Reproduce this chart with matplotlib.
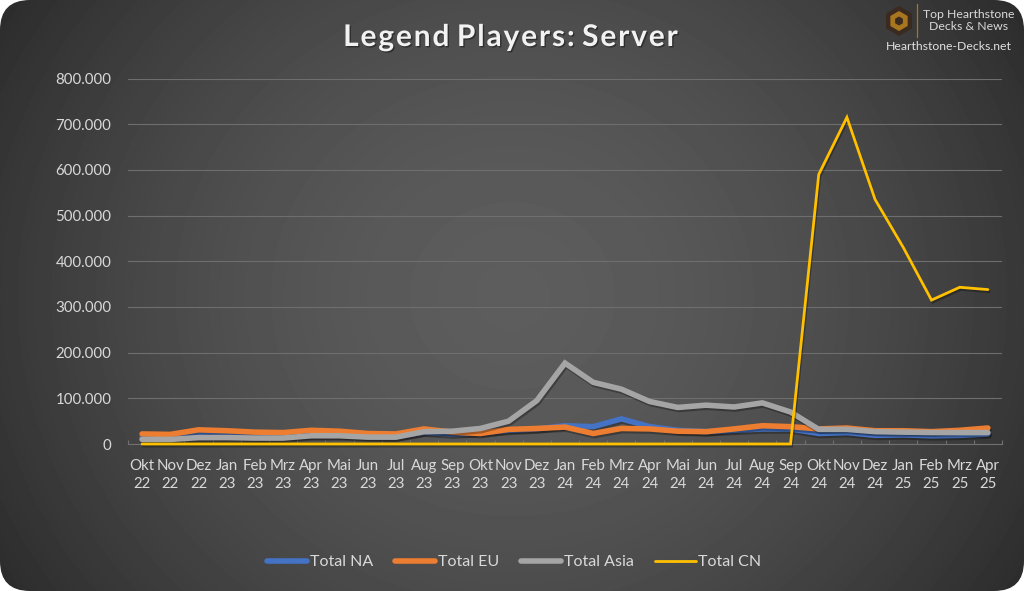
import numpy as np
import matplotlib
matplotlib.use("Agg")
import matplotlib.pyplot as plt
from matplotlib.patches import FancyBboxPatch, RegularPolygon
from matplotlib.ticker import FuncFormatter, MultipleLocator, FixedLocator
import matplotlib.patheffects as pe

months = ["Okt 22","Nov 22","Dez 22","Jan 23","Feb 23","Mrz 23","Apr 23","Mai 23","Jun 23","Jul 23","Aug 23","Sep 23",
          "Okt 23","Nov 23","Dez 23","Jan 24","Feb 24","Mrz 24","Apr 24","Mai 24","Jun 24","Jul 24","Aug 24","Sep 24",
          "Okt 24","Nov 24","Dez 24","Jan 25","Feb 25","Mrz 25","Apr 25"]
total_na = [14000,14000,20000,18000,16000,16000,20000,20000,17000,16000,26000,22000,25000,30000,33000,40000,38000,55000,38000,30000,27000,30000,33000,33000,23000,25000,19000,20000,18000,19000,22000]
total_eu = [22000,21000,31000,29000,26000,25000,30000,28000,23000,22000,33000,26000,23000,32000,34000,37000,23000,34000,33000,28000,27000,33000,40000,38000,33000,35000,29000,29000,27000,30000,35000]
total_asia = [10000,10000,14000,14000,13000,13000,18000,18000,15000,15000,27000,28000,34000,50000,95000,177000,135000,120000,93000,80000,85000,81000,90000,70000,32000,32000,27000,26000,25000,25000,25000]
total_cn = [0]*24 + [590000,715000,535000,430000,315000,343000,338000]

plt.rcParams["font.family"] = ["Lato", "DejaVu Sans"]
W, H = 1024, 591
fig = plt.figure(figsize=(W/100, H/100), dpi=100, facecolor="white")

bg = fig.add_axes([0, 0, 1, 1], zorder=0)
bg.set_xlim(0, W); bg.set_ylim(H, 0); bg.axis("off")
yy, xx = np.mgrid[0:H, 0:W]
r = np.sqrt(((xx-W/2)/(W*0.6))**2 + ((yy-H/2)/(H*0.95))**2)
shade = np.clip(0.365 - 0.2*r**1.7, 0, 1)
im = bg.imshow(shade, cmap="gray", vmin=0, vmax=1, extent=(0, W, H, 0), aspect="auto", interpolation="bilinear")
clip = FancyBboxPatch((0, 0), W, H, boxstyle="round,pad=0,rounding_size=30", transform=bg.transData, fc="none", ec="none")
bg.add_patch(clip)
im.set_clip_path(clip)

ax = fig.add_axes([128/W, 1-444/H, (1002-128)/W, (444-78.5)/H], zorder=2)
ax.patch.set_alpha(0)
x = np.arange(len(months))
shadow = [pe.SimpleLineShadow(offset=(0.8, -1.5), shadow_color="black", alpha=0.3), pe.Normal()]
series = [("Total NA", total_na, "#4472C4", 4.0),
          ("Total EU", total_eu, "#ED7D31", 4.0),
          ("Total Asia", total_asia, "#A5A5A5", 4.0),
          ("Total CN", total_cn, "#FFC000", 2.0)]
for name, vals, col, lw in series:
    ax.plot(x, vals, color=col, lw=lw, label=name, solid_capstyle="round", solid_joinstyle="miter",
            path_effects=shadow, clip_on=False, zorder=3)

ax.set_xlim(-0.5, len(months)-0.5)
ax.set_ylim(0, 800000)
ax.yaxis.set_major_locator(MultipleLocator(100000))
ax.yaxis.set_major_formatter(FuncFormatter(lambda v, _: "0" if v == 0 else f"{int(v):,}".replace(",", ".")))
ax.set_xticks(x)
ax.set_xticklabels([m.replace(" ", "\n") for m in months], linespacing=1.38)
ax.xaxis.set_minor_locator(FixedLocator(np.arange(len(months)+1)-0.5))
ax.tick_params(axis="x", which="major", length=0, pad=11, labelsize=10.8, labelcolor="#D9D9D9")
ax.tick_params(axis="x", which="minor", length=3, width=0.8, direction="in", color="#707070")
ax.tick_params(axis="y", length=0, pad=12, labelsize=10.8, labelcolor="#D9D9D9")
ax.grid(axis="y", color="#6E6E6E", lw=0.8)
ax.set_axisbelow(True)
for s in ["top", "left", "right"]:
    ax.spines[s].set_visible(False)
ax.spines["bottom"].set_color("#707070")
ax.spines["bottom"].set_linewidth(0.8)

leg = ax.legend(loc="center", bbox_to_anchor=(514/W, 1-562/H), bbox_transform=fig.transFigure, ncol=4, frameon=False,
                fontsize=11.5, labelcolor="#D9D9D9", handlelength=2.55, handletextpad=0.15, columnspacing=1.35)
for h in leg.get_lines():
    h.set_path_effects([])

title_words = ["Legend", "Players:", "Server"]
title = "\u200a\u2009\u200a".join("\u200a".join(w) for w in title_words)
fig.text(511/W, 1-37/H, title, ha="center", va="center", fontsize=21.5, fontweight="bold", color="#F2F2F2",
         path_effects=[pe.withSimplePatchShadow(offset=(1, -1), shadow_rgbFace="black", alpha=0.4)])

# logo
bg.add_patch(RegularPolygon((899, 21), 6, radius=15, fc="#3a2a20", ec="none", zorder=3))
bg.add_patch(RegularPolygon((899, 21), 6, radius=10, fc="#A8761F", ec="none", zorder=3))
bg.add_patch(RegularPolygon((899, 21), 6, radius=4.5, fc="#3a2a20", ec="none", zorder=3))
bg.plot([916.5, 916.5], [4, 37], color="#A8761F", lw=0.9, zorder=3)
bg.text(969, 14, "Top Hearthstone", ha="center", va="center", fontsize=8.8, color="#D9D9D9", zorder=3)
bg.text(969, 27, "Decks & News", ha="center", va="center", fontsize=8.8, color="#D9D9D9", zorder=3)
bg.text(949, 47, "Hearthstone-Decks.net", ha="center", va="center", fontsize=8.8, color="#E0E0E0", zorder=3)

fig.savefig("out.png", dpi=100, facecolor="white")
